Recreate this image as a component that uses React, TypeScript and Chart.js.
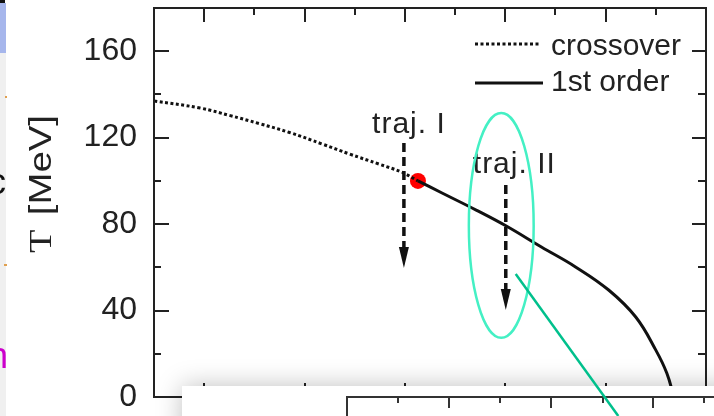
import { useEffect, useRef } from "react";
import { Chart, registerables } from "chart.js";
Chart.register(...registerables);

// ---- data (mu in hidden x units, T in MeV) ----
const crossoverMu = [0, 46, 76, 105, 135, 168, 195, 224, 247, 263];
const crossoverT = [137, 133.7, 130.2, 126.5, 122.4, 117, 112.4, 107.8, 104, 100];
const firstOrderMu = [263, 287, 321, 351, 386, 420, 453, 480, 500, 511, 518];
const firstOrderT = [100, 94.4, 86.5, 79.1, 69.4, 60.2, 49.5, 37, 21.7, 11, 0];
const cepMu = [263];
const cepT = [100];
const yTickValues = [0, 40, 80, 120, 160];
const legendLabels = ["crossover", "1st order"];
const trajLabels = ["traj. I", "traj. II"];
const trajMu = [249, 350.5];
const trajTStart = [117.5, 98.1];
const trajTEnd = [59.7, 40.3];
const trajLabelMu = [254, 359];
const trajLabelT = [122.2, 103.7];
const ellipseMu = [346];
const ellipseT = [79.4];
const ellipseHalfMu = [32.3];
const ellipseHalfT = [52];
const pointerMu = [360.4, 462.6];
const pointerT = [56.9, -8.8];
const yTitle = ["T", " [MeV]"];

const SANS = "'Liberation Sans', Arial, Helvetica, sans-serif";
const SERIF = "'Liberation Serif', 'Times New Roman', serif";
const INK = "#222";

const decor = {
  id: "decor",
  afterDraw(chart: any) {
    const { ctx, chartArea: a, scales } = chart;
    const xs = scales.x;
    const ys = scales.y;
    const px = (v: number) => xs.getPixelForValue(v);
    const py = (v: number) => ys.getPixelForValue(v);
    const seg = (x1: number, y1: number, x2: number, y2: number) => {
      ctx.beginPath();
      ctx.moveTo(x1, y1);
      ctx.lineTo(x2, y2);
      ctx.stroke();
    };
    ctx.save();

    // left edge fragments of the slide
    ctx.fillStyle = "#f0f0f0";
    ctx.fillRect(0, 53, 6, 363);
    ctx.fillStyle = "#a6b6ec";
    ctx.fillRect(0, 3, 6, 50);
    ctx.fillStyle = "#111";
    ctx.fillRect(0, 0, 5, 3);
    ctx.fillStyle = "#e0a050";
    ctx.fillRect(5, 96, 2, 2);
    ctx.fillRect(4, 264, 3, 2);
    ctx.save();
    ctx.beginPath();
    ctx.rect(0, 0, 8, 416);
    ctx.clip();
    ctx.font = `36px ${SANS}`;
    ctx.textAlign = "right";
    ctx.textBaseline = "alphabetic";
    ctx.fillStyle = "#111";
    ctx.fillText("c", 6, 194);
    ctx.fillStyle = "#cc00cc";
    ctx.fillText("n", 8, 368);
    ctx.restore();

    // frame
    ctx.strokeStyle = INK;
    ctx.lineWidth = 2;
    ctx.strokeRect(a.left, a.top, a.right - a.left, a.bottom - a.top);

    // inward ticks
    for (let v = 50; v < xs.max; v += 50) {
      const major = Math.round(v / 50) % 2 === 1;
      const L = major ? 14 : 7;
      const X = Math.round(px(v));
      seg(X, a.top, X, a.top + L);
      seg(X, a.bottom, X, a.bottom - L);
    }
    for (let v = 20; v < ys.max; v += 20) {
      const major = v % 40 === 0;
      const Y = Math.round(py(v));
      seg(a.left, Y, a.left + (major ? 15 : 7), Y);
      seg(a.right, Y, a.right - (major ? 14 : 8), Y);
    }

    // y-axis title
    ctx.save();
    ctx.translate(51, 253);
    ctx.rotate(-Math.PI / 2);
    ctx.scale(1.2, 1);
    ctx.fillStyle = INK;
    ctx.textBaseline = "alphabetic";
    ctx.textAlign = "left";
    ctx.font = `32px ${SERIF}`;
    ctx.fillText(yTitle[0], 0, 0);
    const tw = ctx.measureText(yTitle[0]).width;
    ctx.font = `32px ${SANS}`;
    ctx.fillText(yTitle[1], tw + 3, 0);
    ctx.restore();

    // legend
    ctx.lineWidth = 3;
    ctx.strokeStyle = "#111";
    ctx.setLineDash([3, 2.5]);
    seg(a.right - 231, 44, a.right - 165, 44);
    ctx.setLineDash([]);
    seg(a.right - 231, 83, a.right - 163, 83);
    ctx.fillStyle = INK;
    ctx.font = `30px ${SANS}`;
    ctx.textAlign = "left";
    ctx.textBaseline = "alphabetic";
    ctx.fillText(legendLabels[0], a.right - 155, 55);
    ctx.fillText(legendLabels[1], a.right - 155, 91);

    // trajectories
    for (let i = 0; i < trajMu.length; i++) {
      const X = px(trajMu[i]);
      const y0 = py(trajTStart[i]);
      const y1 = py(trajTEnd[i]);
      ctx.strokeStyle = "#111";
      ctx.lineWidth = 3.5;
      ctx.setLineDash([9, 5]);
      seg(X, y0, X, y1 - 18);
      ctx.setLineDash([]);
      ctx.fillStyle = "#111";
      ctx.beginPath();
      ctx.moveTo(X - 5, y1 - 21);
      ctx.lineTo(X + 5, y1 - 21);
      ctx.lineTo(X, y1);
      ctx.closePath();
      ctx.fill();
      ctx.save();
      ctx.font = `30px ${SANS}`;
      (ctx as any).letterSpacing = "1px";
      ctx.textAlign = "center";
      ctx.fillStyle = INK;
      ctx.fillText(trajLabels[i], px(trajLabelMu[i]), py(trajLabelT[i]));
      ctx.restore();
    }

    // highlight ellipse
    const ex = px(ellipseMu[0]);
    const ey = py(ellipseT[0]);
    ctx.strokeStyle = "#44f0c4";
    ctx.lineWidth = 2.5;
    ctx.beginPath();
    ctx.ellipse(ex, ey, px(ellipseMu[0] + ellipseHalfMu[0]) - ex, ey - py(ellipseT[0] + ellipseHalfT[0]), 0, 0, Math.PI * 2);
    ctx.stroke();

    // overlapping slide image at the bottom
    ctx.save();
    ctx.shadowColor = "rgba(0,0,0,0.25)";
    ctx.shadowBlur = 26;
    ctx.fillStyle = "#fff";
    ctx.fillRect(182, 386, 600, 80);
    ctx.restore();
    ctx.strokeStyle = "#333";
    ctx.lineWidth = 2;
    seg(347, 397, 714, 397);
    seg(347, 396, 347, 416);
    const subTicks = [398, 449, 500, 551, 603, 653, 704];
    subTicks.forEach((t, k) => seg(t, 397, t, 397 + (k % 2 === 1 ? 11 : 6)));

    // pointer line
    ctx.strokeStyle = "#00c08c";
    ctx.lineWidth = 2.5;
    seg(px(pointerMu[0]), py(pointerT[0]), px(pointerMu[1]), py(pointerT[1]));

    ctx.restore();
  },
};

export default function App() {
  const ref = useRef<HTMLCanvasElement | null>(null);
  useEffect(() => {
    if (!ref.current) return;
    Chart.defaults.font.family = SANS;
    const chart = new Chart(ref.current, {
      type: "line",
      data: {
        datasets: [
          {
            label: legendLabels[0],
            data: crossoverMu.map((m, i) => ({ x: m, y: crossoverT[i] })),
            borderColor: "#111",
            borderWidth: 3,
            borderDash: [3, 2.5],
            pointRadius: 0,
            tension: 0.4,
          },
          {
            label: legendLabels[1],
            data: firstOrderMu.map((m, i) => ({ x: m, y: firstOrderT[i] })),
            borderColor: "#111",
            borderWidth: 3,
            pointRadius: 0,
            tension: 0.4,
          },
          {
            label: "CEP",
            data: cepMu.map((m, i) => ({ x: m, y: cepT[i] })),
            showLine: false,
            pointRadius: 8,
            pointBackgroundColor: "#ff0000",
            pointBorderWidth: 0,
            borderColor: "#ff0000",
          },
        ],
      },
      options: {
        animation: false,
        responsive: false,
        devicePixelRatio: 1,
        layout: { padding: { left: 0, top: 8, right: 6, bottom: 19 } },
        plugins: { legend: { display: false }, tooltip: { enabled: false } },
        scales: {
          x: {
            type: "linear",
            min: 0,
            max: 550,
            display: false,
          },
          y: {
            type: "linear",
            min: 0,
            max: 180,
            grid: { display: false, drawTicks: false },
            border: { display: false },
            afterBuildTicks: (s: any) => {
              s.ticks = yTickValues.map((v) => ({ value: v }));
            },
            afterFit: (s: any) => {
              s.width = 154;
              s.paddingTop = 0;
              s.paddingBottom = 0;
            },
            ticks: {
              padding: 17,
              color: INK,
              font: { size: 32, family: SANS },
              autoSkip: false,
            },
          },
        },
      },
      plugins: [decor],
    } as any);
    return () => chart.destroy();
  }, []);
  return (
    <div style={{ position: "absolute", left: 0, top: 0, width: 714, height: 416, background: "#fff" }}>
      <canvas ref={ref} width={714} height={416} />
    </div>
  );
}
